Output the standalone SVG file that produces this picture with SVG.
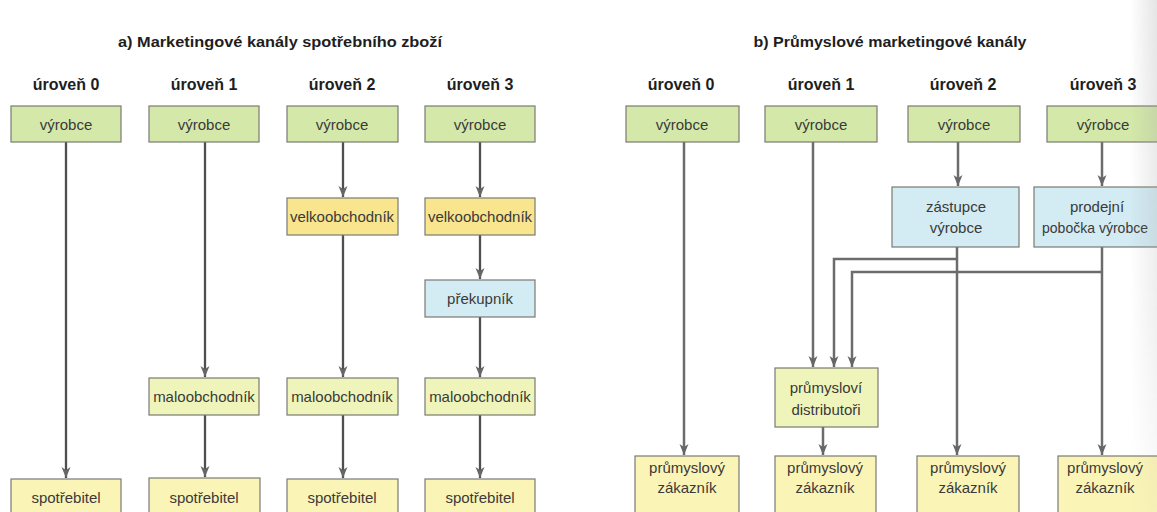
<svg xmlns="http://www.w3.org/2000/svg" width="1157" height="512" viewBox="0 0 1157 512">
  <style>
    .title { font-family: "Liberation Sans", Arial, sans-serif; font-size: 15px; font-weight: bold; fill: #1e1e1e; text-anchor: middle; }
    .level { font-family: "Liberation Sans", Arial, sans-serif; font-size: 16px; font-weight: bold; fill: #1e1e1e; text-anchor: middle; }
    .lbl { font-family: "Liberation Sans", Arial, sans-serif; font-size: 15px; fill: #3a3a3a; text-anchor: middle; }
    .box { stroke: #7a7a72; stroke-width: 1.2; }
    .green { fill: #d4e9a9; }
    .yellow { fill: #f8e58e; }
    .blue { fill: #d3ebf3; }
    .pale { fill: #eff5ba; }
    .cream { fill: #faf4b7; }
    .wire { fill: none; stroke: #4f4f4f; stroke-width: 2.3; marker-end: url(#arrow); }
    .wire2 { fill: none; stroke: #6c6c6c; stroke-width: 2.5; }
    .wire2.end { marker-end: url(#arrow); }
  </style>
  <defs>
    <marker id="arrow" markerUnits="userSpaceOnUse" markerWidth="11" markerHeight="10" refX="11" refY="4.5" orient="auto">
      <path d="M0,0 L11,4.5 L0,9 L3,4.5 Z" fill="#666666"/>
    </marker>
    <linearGradient id="edge" x1="0" y1="0" x2="1" y2="0">
      <stop offset="0" stop-color="#a0a0a0" stop-opacity="0"/>
      <stop offset="1" stop-color="#a0a0a0" stop-opacity="0.28"/>
    </linearGradient>
    <linearGradient id="edgeFade" x1="0" y1="0" x2="0" y2="1">
      <stop offset="0" stop-color="#ffffff" stop-opacity="1"/>
      <stop offset="0.6" stop-color="#ffffff" stop-opacity="0.6"/>
      <stop offset="1" stop-color="#ffffff" stop-opacity="0.15"/>
    </linearGradient>
    <mask id="edgeMask">
      <rect x="1130" y="0" width="27" height="512" fill="url(#edgeFade)"/>
    </mask>
  </defs>

  <rect width="1157" height="512" fill="#ffffff"/>

  <!-- headings -->
  <g id="headings">
    <text class="title" x="280" y="47" textLength="324" lengthAdjust="spacingAndGlyphs">a) Marketingové kanály spotřebního zboží</text>
    <text class="title" x="890" y="47" textLength="273" lengthAdjust="spacingAndGlyphs">b) Průmyslové marketingové kanály</text>
    <text class="level" x="66" y="90">úroveň 0</text>
    <text class="level" x="204" y="90">úroveň 1</text>
    <text class="level" x="342" y="90">úroveň 2</text>
    <text class="level" x="480" y="90">úroveň 3</text>
    <text class="level" x="681" y="90">úroveň 0</text>
    <text class="level" x="821" y="90">úroveň 1</text>
    <text class="level" x="963" y="90">úroveň 2</text>
    <text class="level" x="1103" y="90">úroveň 3</text>
  </g>

  <!-- connectors -->
  <g id="connectors">
    <!-- consumer goods channels -->
    <path class="wire" d="M66,142 V478"/>
    <path class="wire" d="M205,142 V377"/>
    <path class="wire" d="M205,415 V477"/>
    <path class="wire" d="M343,142 V197"/>
    <path class="wire" d="M343,235 V377"/>
    <path class="wire" d="M343,415 V478"/>
    <path class="wire" d="M480,142 V197"/>
    <path class="wire" d="M480,235 V279"/>
    <path class="wire" d="M480,317 V377"/>
    <path class="wire" d="M480,415 V478"/>
    <!-- industrial channels -->
    <path class="wire2 end" d="M684,142 V455"/>
    <path class="wire2 end" d="M813,142 V367"/>
    <path class="wire2 end" d="M823,427 V455"/>
    <path class="wire2 end" d="M958,142 V186"/>
    <path class="wire2 end" d="M957,247 V455"/>
    <path class="wire2 end" d="M1102,142 V186"/>
    <path class="wire2 end" d="M1102,247 V455"/>
    <path class="wire2 end" d="M957,259 H834 V367"/>
    <path class="wire2 end" d="M1102,272 H852 V367"/>
  </g>

  <!-- a) consumer goods -->
  <g id="a-vyrobce-0"><rect class="box green" x="11" y="106" width="110" height="36"/><text class="lbl" x="66" y="130">výrobce</text></g>
  <g id="a-vyrobce-1"><rect class="box green" x="149" y="106" width="110" height="36"/><text class="lbl" x="204" y="130">výrobce</text></g>
  <g id="a-vyrobce-2"><rect class="box green" x="287" y="106" width="111" height="36"/><text class="lbl" x="342" y="130">výrobce</text></g>
  <g id="a-vyrobce-3"><rect class="box green" x="425" y="106" width="110" height="36"/><text class="lbl" x="480" y="130">výrobce</text></g>

  <g id="a-velkoobchodnik-2"><rect class="box yellow" x="287" y="198" width="111" height="37"/><text class="lbl" x="342" y="222">velkoobchodník</text></g>
  <g id="a-velkoobchodnik-3"><rect class="box yellow" x="425" y="198" width="110" height="37"/><text class="lbl" x="480" y="222">velkoobchodník</text></g>

  <g id="a-prekupnik-3"><rect class="box blue" x="425" y="280" width="110" height="37"/><text class="lbl" x="480" y="304">překupník</text></g>

  <g id="a-maloobchodnik-1"><rect class="box pale" x="149" y="378" width="110" height="37"/><text class="lbl" x="204" y="402">maloobchodník</text></g>
  <g id="a-maloobchodnik-2"><rect class="box pale" x="287" y="378" width="111" height="37"/><text class="lbl" x="342" y="402">maloobchodník</text></g>
  <g id="a-maloobchodnik-3"><rect class="box pale" x="425" y="378" width="110" height="37"/><text class="lbl" x="480" y="402">maloobchodník</text></g>

  <g id="a-spotrebitel-0"><rect class="box cream" x="11" y="479" width="110" height="40"/><text class="lbl" x="66" y="503">spotřebitel</text></g>
  <g id="a-spotrebitel-1"><rect class="box cream" x="149" y="478" width="111" height="40"/><text class="lbl" x="204" y="503">spotřebitel</text></g>
  <g id="a-spotrebitel-2"><rect class="box cream" x="287" y="479" width="111" height="40"/><text class="lbl" x="342" y="503">spotřebitel</text></g>
  <g id="a-spotrebitel-3"><rect class="box cream" x="425" y="479" width="110" height="40"/><text class="lbl" x="480" y="503">spotřebitel</text></g>

  <!-- b) industrial goods -->
  <g id="b-vyrobce-0"><rect class="box green" x="626" y="106" width="113" height="36"/><text class="lbl" x="682" y="130">výrobce</text></g>
  <g id="b-vyrobce-1"><rect class="box green" x="765" y="106" width="112" height="36"/><text class="lbl" x="821" y="130">výrobce</text></g>
  <g id="b-vyrobce-2"><rect class="box green" x="908" y="106" width="112" height="36"/><text class="lbl" x="964" y="130">výrobce</text></g>
  <g id="b-vyrobce-3"><rect class="box green" x="1047" y="106" width="115" height="36"/><text class="lbl" x="1103" y="130">výrobce</text></g>

  <g id="b-zastupce-2"><rect class="box blue" x="892" y="187" width="127" height="60"/><text class="lbl" x="956" y="212">zástupce</text><text class="lbl" x="956" y="233">výrobce</text></g>
  <g id="b-pobocka-3"><rect class="box blue" x="1034" y="187" width="126" height="60"/><text class="lbl" x="1097" y="212">prodejní</text><text class="lbl" x="1095" y="233" textLength="106" lengthAdjust="spacingAndGlyphs">pobočka výrobce</text></g>

  <g id="b-distributori-1"><rect class="box pale" x="775" y="368" width="103" height="59"/><text class="lbl" x="826" y="393">průmysloví</text><text class="lbl" x="826" y="415">distributoři</text></g>

  <g id="b-zakaznik-0"><rect class="box cream" x="635" y="456" width="104" height="62"/><text class="lbl" x="687" y="473">průmyslový</text><text class="lbl" x="687" y="493">zákazník</text></g>
  <g id="b-zakaznik-1"><rect class="box cream" x="775" y="456" width="101" height="62"/><text class="lbl" x="825" y="473">průmyslový</text><text class="lbl" x="825" y="493">zákazník</text></g>
  <g id="b-zakaznik-2"><rect class="box cream" x="917" y="456" width="102" height="62"/><text class="lbl" x="968" y="473">průmyslový</text><text class="lbl" x="968" y="493">zákazník</text></g>
  <g id="b-zakaznik-3"><rect class="box cream" x="1058" y="456" width="104" height="62"/><text class="lbl" x="1105" y="473">průmyslový</text><text class="lbl" x="1105" y="493">zákazník</text></g>

  <!-- page shadow along the right margin, strongest at the top -->
  <rect x="1130" y="0" width="27" height="512" fill="url(#edge)" mask="url(#edgeMask)"/>
</svg>
